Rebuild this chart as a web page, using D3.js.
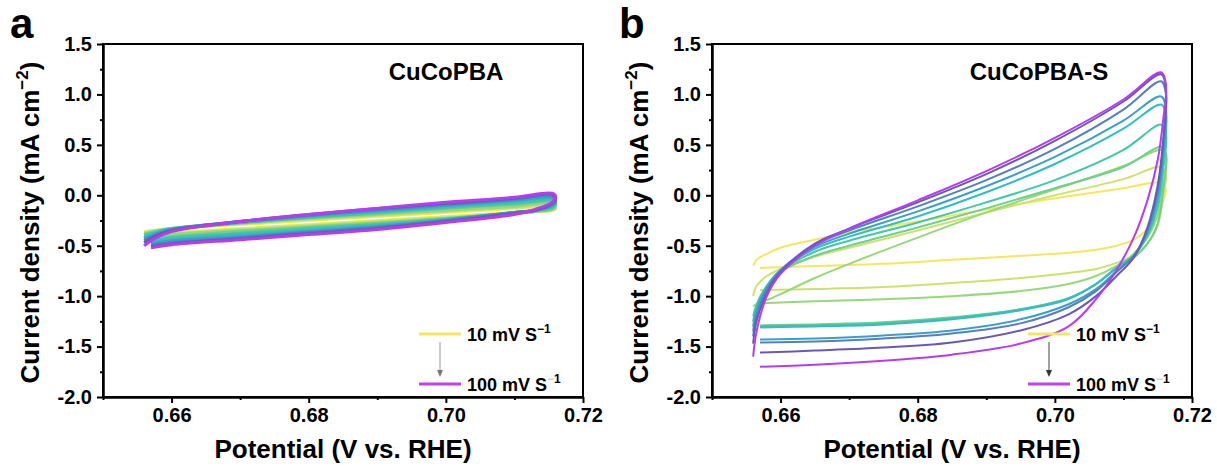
<!DOCTYPE html>
<html lang="en">
<head>
<meta charset="UTF-8">
<title>CV curves CuCoPBA / CuCoPBA-S</title>
<script src="https://d3js.org/d3.v7.min.js"></script>
<style>
  body { margin: 0; background: #fff; }
  text { font-family: "Liberation Sans", Arial, sans-serif; font-weight: bold; }
</style>
</head>
<body>
<svg width="1217" height="471"></svg>
<script>
// scan rates, 10 -> 100 mV/s
const scanRates = [10, 20, 30, 40, 50, 60, 70, 80, 90, 100];
const curveColors = ['#f3e85c', '#cbe36c', '#98d87a', '#6fcf8c', '#40c8a8', '#35bcc2', '#3c9fc9', '#5580c0', '#6a58b8', '#b63cf0'];

const xTicks = [0.66, 0.68, 0.70, 0.72];
const xMinor = [0.65, 0.67, 0.69, 0.71];
const yTicks = [-2.0, -1.5, -1.0, -0.5, 0.0, 0.5, 1.0, 1.5];
const yMinor = [-1.75, -1.25, -0.75, -0.25, 0.25, 0.75, 1.25];

// panel a : CuCoPBA  (forward scan, turn point, reverse scan)
const aUpV = [0.656, 0.6575, 0.66, 0.67, 0.68, 0.69, 0.70, 0.71, 0.7155];
const aTurnV = 0.716;
const aLowV = [0.7155, 0.713, 0.71, 0.70, 0.69, 0.68, 0.67, 0.66, 0.657];
const aCurrents = [
  [-0.36, -0.35, -0.33, -0.29, -0.25, -0.21, -0.17, -0.13, -0.11, -0.13, -0.15, -0.16, -0.17, -0.21, -0.25, -0.29, -0.33, -0.37, -0.39],
  [-0.37, -0.35, -0.33, -0.28, -0.24, -0.20, -0.16, -0.12, -0.10, -0.12, -0.15, -0.16, -0.18, -0.22, -0.26, -0.30, -0.34, -0.38, -0.40],
  [-0.38, -0.36, -0.33, -0.28, -0.23, -0.19, -0.15, -0.11, -0.08, -0.11, -0.14, -0.16, -0.18, -0.23, -0.27, -0.31, -0.35, -0.39, -0.42],
  [-0.39, -0.36, -0.33, -0.27, -0.22, -0.18, -0.13, -0.09, -0.06, -0.09, -0.13, -0.16, -0.18, -0.23, -0.28, -0.32, -0.36, -0.41, -0.43],
  [-0.40, -0.37, -0.33, -0.27, -0.22, -0.17, -0.12, -0.08, -0.05, -0.08, -0.12, -0.15, -0.17, -0.24, -0.29, -0.33, -0.38, -0.42, -0.45],
  [-0.42, -0.38, -0.34, -0.27, -0.21, -0.16, -0.11, -0.06, -0.03, -0.06, -0.11, -0.15, -0.17, -0.24, -0.30, -0.35, -0.39, -0.44, -0.46],
  [-0.43, -0.39, -0.34, -0.26, -0.20, -0.15, -0.10, -0.05, -0.02, -0.05, -0.10, -0.15, -0.17, -0.25, -0.31, -0.36, -0.41, -0.45, -0.48],
  [-0.45, -0.40, -0.34, -0.26, -0.20, -0.14, -0.09, -0.04, 0.00, -0.04, -0.09, -0.15, -0.17, -0.25, -0.32, -0.37, -0.42, -0.47, -0.49],
  [-0.47, -0.41, -0.35, -0.26, -0.19, -0.13, -0.08, -0.03, 0.01, -0.03, -0.08, -0.15, -0.18, -0.26, -0.33, -0.38, -0.43, -0.48, -0.51],
  [-0.50, -0.43, -0.36, -0.26, -0.19, -0.13, -0.07, -0.02, 0.02, -0.01, -0.07, -0.14, -0.19, -0.27, -0.34, -0.39, -0.44, -0.49, -0.52]
];

// panel b : CuCoPBA-S
const bUpV = [0.656, 0.6565, 0.658, 0.66, 0.665, 0.67, 0.68, 0.69, 0.70, 0.71, 0.7155];
const bTurnV = 0.7162;
const bLowV = [0.7158, 0.715, 0.7135, 0.7115, 0.709, 0.706, 0.702, 0.695, 0.685, 0.675, 0.665, 0.657];
const bCurrents = [
  [-0.70, -0.64, -0.58, -0.52, -0.44, -0.37, -0.26, -0.14, -0.03, 0.07, 0.12, 0.05, -0.05, -0.22, -0.34, -0.44, -0.50, -0.54, -0.57, -0.60, -0.64, -0.68, -0.70, -0.72],
  [-1.00, -0.90, -0.80, -0.73, -0.61, -0.52, -0.35, -0.17, 0.00, 0.16, 0.28, 0.20, 0.00, -0.30, -0.48, -0.60, -0.67, -0.73, -0.77, -0.82, -0.87, -0.91, -0.93, -0.94],
  [-1.10, -1.08, -1.04, -0.98, -0.82, -0.68, -0.42, -0.17, 0.06, 0.29, 0.45, 0.40, 0.10, -0.20, -0.42, -0.58, -0.70, -0.80, -0.88, -0.95, -1.00, -1.03, -1.05, -1.07],
  [-1.20, -1.08, -0.90, -0.76, -0.60, -0.50, -0.32, -0.13, 0.07, 0.28, 0.48, 0.42, 0.05, -0.28, -0.48, -0.62, -0.72, -0.88, -1.02, -1.13, -1.21, -1.26, -1.28, -1.29],
  [-1.25, -1.10, -0.90, -0.75, -0.56, -0.45, -0.27, -0.07, 0.15, 0.45, 0.70, 0.62, 0.25, -0.12, -0.40, -0.60, -0.72, -0.88, -1.02, -1.13, -1.22, -1.27, -1.29, -1.30],
  [-1.30, -1.12, -0.90, -0.74, -0.53, -0.41, -0.21, 0.03, 0.31, 0.66, 0.90, 0.80, 0.35, -0.05, -0.38, -0.60, -0.72, -0.88, -1.03, -1.14, -1.23, -1.28, -1.30, -1.31],
  [-1.35, -1.15, -0.92, -0.74, -0.51, -0.38, -0.16, 0.09, 0.38, 0.74, 0.98, 0.85, 0.40, 0.00, -0.36, -0.60, -0.75, -0.93, -1.08, -1.23, -1.34, -1.39, -1.42, -1.43],
  [-1.40, -1.20, -0.94, -0.75, -0.49, -0.35, -0.11, 0.15, 0.46, 0.85, 1.13, 1.00, 0.50, 0.05, -0.34, -0.60, -0.76, -0.95, -1.11, -1.27, -1.37, -1.42, -1.45, -1.46],
  [-1.47, -1.25, -0.97, -0.76, -0.48, -0.33, -0.07, 0.21, 0.54, 0.93, 1.20, 1.05, 0.55, 0.10, -0.32, -0.62, -0.80, -1.00, -1.18, -1.34, -1.46, -1.51, -1.54, -1.56],
  [-1.60, -1.35, -1.00, -0.78, -0.50, -0.33, -0.05, 0.24, 0.57, 0.95, 1.22, 1.10, 0.75, 0.35, -0.05, -0.42, -0.74, -1.03, -1.30, -1.47, -1.58, -1.64, -1.68, -1.70]
];

const svg = d3.select('svg');
const plotTop = 44, plotBottom = 397, plotW = 480;

function drawPanel(left, letter, title, titleX, upV, turnV, lowV, currents, lw) {
  const x = d3.scaleLinear().domain([0.65, 0.72]).range([left, left + plotW]);
  const y = d3.scaleLinear().domain([-2.0, 1.5]).range([plotBottom, plotTop]);
  const volts = upV.concat([turnV], lowV);

  const line = d3.line()
    .x(d => x(d[0]))
    .y(d => y(d[1]))
    .curve(d3.curveCatmullRom.alpha(0.5));

  const clip = 'clip' + letter;
  svg.append('clipPath').attr('id', clip)
    .append('rect').attr('x', left).attr('y', plotTop).attr('width', plotW).attr('height', plotBottom - plotTop);

  svg.append('g').attr('clip-path', `url(#${clip})`)
    .selectAll('path')
    .data(currents)
    .enter().append('path')
    .attr('d', c => line(c.map((v, i) => [volts[i], v])))
    .attr('fill', 'none')
    .attr('stroke', (c, i) => curveColors[i])
    .attr('stroke-width', lw)
    .attr('stroke-linejoin', 'round');

  // axes
  const gx = svg.append('g').attr('transform', `translate(0,${plotBottom})`)
    .call(d3.axisBottom(x).tickValues(xTicks).tickFormat(d3.format('.2f')).tickSize(6).tickSizeOuter(0).tickPadding(5));
  svg.append('g').attr('transform', `translate(0,${plotBottom})`)
    .call(d3.axisBottom(x).tickValues(xMinor).tickFormat('').tickSize(3).tickSizeOuter(0));
  const gy = svg.append('g').attr('transform', `translate(${left},0)`)
    .call(d3.axisLeft(y).tickValues(yTicks).tickFormat(d => d3.format('.1f')(d).replace('\u2212', '-')).tickSize(6).tickSizeOuter(0).tickPadding(5));
  svg.append('g').attr('transform', `translate(${left},0)`)
    .call(d3.axisLeft(y).tickValues(yMinor).tickFormat('').tickSize(3).tickSizeOuter(0));

  svg.selectAll('.domain').attr('stroke', '#000').attr('stroke-width', 2);
  svg.selectAll('.tick line').attr('stroke', '#000').attr('stroke-width', 2);
  [gx, gy].forEach(g => g.selectAll('text')
    .attr('font-size', 20).attr('fill', '#000')
    .style('font-family', '"Liberation Sans", Arial, sans-serif').style('font-weight', 'bold'));

  // frame
  svg.append('rect')
    .attr('x', left).attr('y', plotTop).attr('width', plotW).attr('height', plotBottom - plotTop)
    .attr('fill', 'none').attr('stroke', '#000').attr('stroke-width', 2);

  // titles
  svg.append('text').attr('x', left - 93).attr('y', 38).attr('font-size', 42).text(letter);
  svg.append('text').attr('x', left + titleX).attr('y', 80).attr('text-anchor', 'middle')
    .attr('font-size', 24).text(title);

  svg.append('text').attr('x', left + plotW / 2).attr('y', 458).attr('text-anchor', 'middle')
    .attr('font-size', 26).text('Potential (V vs. RHE)');

  const yl = svg.append('text')
    .attr('transform', `translate(${left - 64},${(plotTop + plotBottom) / 2 + 2}) rotate(-90)`)
    .attr('text-anchor', 'middle').attr('font-size', 26);
  yl.append('tspan').text('Current density (mA cm');
  yl.append('tspan').attr('font-size', 17).attr('dy', -11).text('\u22122');
  yl.append('tspan').attr('dy', 11).text(')');

  // legend
  const lg = svg.append('g').attr('transform', `translate(${left},0)`);
  const rows = [
    { y: 334, color: curveColors[0], label: scanRates[0] + ' mV S', minus: '#000' },
    { y: 384, color: '#c040f2', label: scanRates[scanRates.length - 1] + ' mV S', minus: '#d0d0d0' }
  ];
  rows.forEach(r => {
    lg.append('line').attr('x1', 316).attr('x2', 358).attr('y1', r.y).attr('y2', r.y)
      .attr('stroke', r.color).attr('stroke-width', 3);
    const t = lg.append('text').attr('x', 364).attr('y', r.y + 7).attr('font-size', 18);
    t.append('tspan').text(r.label);
    t.append('tspan').attr('font-size', 12).attr('dy', -8).attr('fill', r.minus).text('\u2212');
    t.append('tspan').attr('font-size', 12).text('1');
  });
  lg.append('line').attr('x1', 337).attr('x2', 337).attr('y1', 342).attr('y2', 372)
    .attr('stroke', letter === 'a' ? '#999' : '#444').attr('stroke-width', 1);
  lg.append('path').attr('d', 'M334,370 L340,370 L337,377 Z')
    .attr('fill', letter === 'a' ? '#777' : '#333');
}

drawPanel(103, 'a', 'CuCoPBA', 343, aUpV, aTurnV, aLowV, aCurrents, 3);
drawPanel(712, 'b', 'CuCoPBA-S', 327, bUpV, bTurnV, bLowV, bCurrents, 2);
</script>
</body>
</html>
